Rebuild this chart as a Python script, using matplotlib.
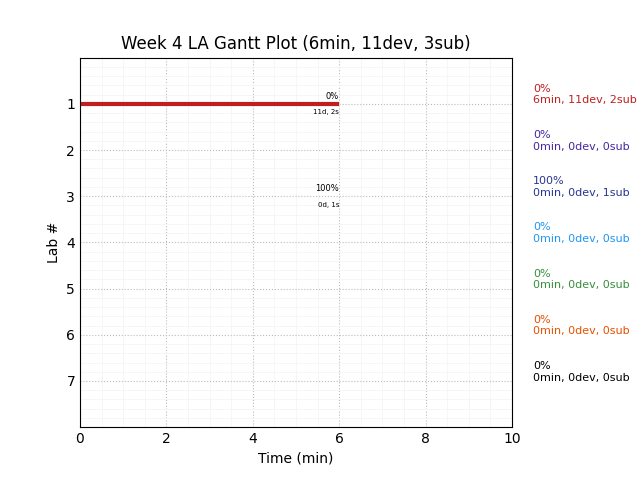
import matplotlib.pyplot as plt
from matplotlib.ticker import MultipleLocator

labs = [1, 2, 3, 4, 5, 6, 7]
minutes = [6, 0, 0, 0, 0, 0, 0]
devs = [11, 0, 0, 0, 0, 0, 0]
subs = [2, 0, 1, 0, 0, 0, 0]
pct = [0, 0, 100, 0, 0, 0, 0]
colors = ['#c01f1f', '#4527a0', '#283593', '#2196f3', '#388e3c', '#e65100', '#000000']

fig, ax = plt.subplots(figsize=(6.4, 4.8), dpi=100)
fig.subplots_adjust(left=0.125, right=0.8, bottom=0.11, top=0.88)

for i, lab in enumerate(labs):
    if minutes[i] > 0:
        ax.plot([0, minutes[i]], [lab, lab], color=colors[i], lw=3, solid_capstyle='butt')
    if minutes[i] > 0 or subs[i] > 0:
        ax.text(6, lab - 0.07, '%d%%' % pct[i], ha='right', va='bottom', fontsize=6)
        ax.text(6, lab + 0.12, '%dd, %ds' % (devs[i], subs[i]), ha='right', va='top', fontsize=5)
    ax.text(10.49, lab - 0.2, '%d%%\n%dmin, %ddev, %dsub' % (pct[i], minutes[i], devs[i], subs[i]),
            color=colors[i], fontsize=8, ha='left', va='center')

ax.set_xlim(0, 10)
ax.set_ylim(8, 0)
ax.set_yticks(labs)
ax.xaxis.set_minor_locator(MultipleLocator(0.5))
ax.yaxis.set_minor_locator(MultipleLocator(0.2))
ax.tick_params(which='both', length=0)
ax.grid(which='major', ls=':', color='#bbbbbb')
ax.grid(which='minor', ls='-', color='#f5f5f5', lw=0.6)
ax.set_axisbelow(True)
ax.set_title('Week 4 LA Gantt Plot (%dmin, %ddev, %dsub)' % (sum(minutes), sum(devs), sum(subs)))
ax.set_xlabel('Time (min)')
ax.set_ylabel('Lab #')

plt.savefig('out.png')
